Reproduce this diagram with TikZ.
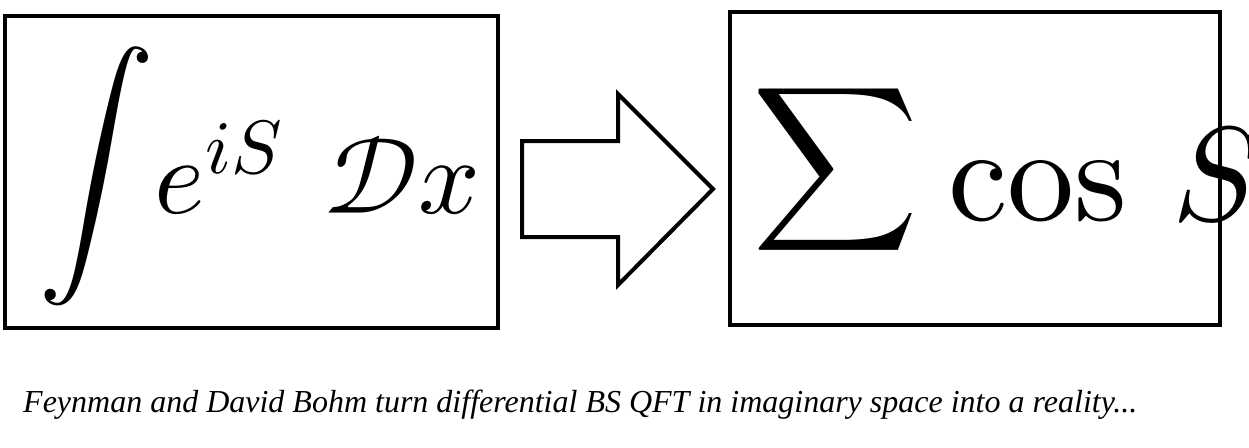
\documentclass[tikz,border=0pt]{standalone}
\usepackage{fontspec}
\usepackage{unicode-math}
\setmathfont{Latin Modern Math}
\newfontfamily\capfont{Liberation Serif}
\tikzset{
  framebox/.style={draw=black, line width=4pt, inner sep=0pt},
  bigarrow/.style={draw=black, line width=4pt, line join=miter, fill=white},
}
\begin{document}
\begin{tikzpicture}[x=1pt,y=-1pt]
\useasboundingbox (0,0) rectangle (1249,447);
% left box
\node[framebox, minimum width=493pt, minimum height=312pt] (L) at (251.5,172) {};
\node[inner sep=0pt, anchor=base west, font=\fontsize{108}{120}\selectfont] (Lf) at (38,213)
  {$\raisebox{7.5pt}{\scalebox{1.08}{$\displaystyle\int$}} e^{iS}\mskip 7mu\mathcal{D}x$};
% right box
\node[framebox, minimum width=490pt, minimum height=313pt] (R) at (975,168.5) {};
\node[inner sep=0pt, anchor=base west, font=\fontsize{134}{150}\selectfont] (Rf) at (752,220)
  {$\raisebox{22pt}{\scalebox{0.86}{$\displaystyle\sum$}}\mskip 4mu \symup{c}\symup{o}\symup{s}\mskip 6mu S$};
% block arrow
\coordinate (a1) at (522,141);
\coordinate (a2) at (618,141);
\coordinate (a3) at (618,94);
\coordinate (a4) at (713,189);
\coordinate (a5) at (618,285);
\coordinate (a6) at (618,237);
\coordinate (a7) at (522,237);
\draw[bigarrow] (a1) -- (a2) -- (a3) -- (a4) -- (a5) -- (a6) -- (a7) -- cycle;
% caption
\node[anchor=base west, inner sep=0pt, font=\capfont\itshape\fontsize{32}{36}\selectfont] (cap) at (23,412)
  {Feynman and David Bohm turn differential BS QFT in imaginary space into a reality...};
\end{tikzpicture}
\end{document}
